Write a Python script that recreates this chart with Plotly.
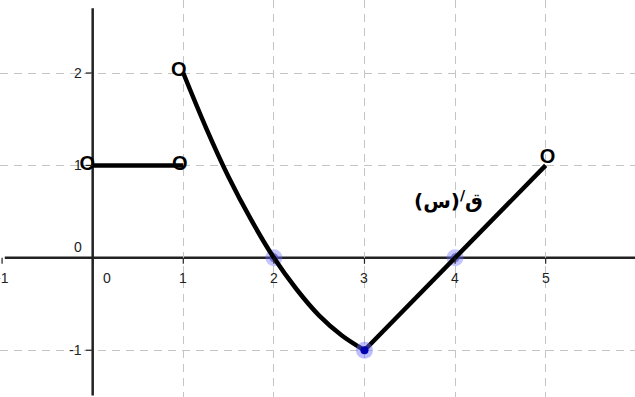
import plotly.graph_objects as go

# ---- data ----
seg_x = [0, 1]
seg_y = [1, 1]
curve_x = [1, 1.25, 1.5, 1.75, 2, 2.25, 2.5, 2.75, 3]
curve_y = [2, 1.41, 0.875, 0.41, 0, -0.34, -0.625, -0.84, -1]
line_x = [3, 5]
line_y = [-1, 1]
open_x = [-0.06, 0.96, 0.95, 5.02]
open_y = [1.0, 1.0, 2.02, 1.08]
zero_x = [2, 4]
zero_y = [0, 0]
min_x = [3]
min_y = [-1]
xtick_vals = [-1, 0, 1, 2, 3, 4, 5, 6]
xtick_text = ["-1", "0", "1", "2", "3", "4", "5", "6"]
ytick_vals = [-1, 0, 1, 2]
ytick_text = ["-1", "0", "1", "2"]
label_text = "ق<sup>/</sup>(س)"

fig = go.Figure()

black = dict(color="black", width=4.5)
# halos under line
fig.add_trace(go.Scatter(x=zero_x, y=zero_y, mode="markers",
                         marker=dict(size=17, color="rgba(110,110,255,0.4)"),
                         hoverinfo="skip"))
fig.add_trace(go.Scatter(x=zero_x, y=zero_y, mode="markers",
                         marker=dict(size=9, color="rgba(80,80,200,0.7)"),
                         hoverinfo="skip"))
fig.add_trace(go.Scatter(x=seg_x, y=seg_y, mode="lines", line=black))
fig.add_trace(go.Scatter(x=curve_x, y=curve_y, mode="lines", line=dict(black, shape="spline")))
fig.add_trace(go.Scatter(x=line_x, y=line_y, mode="lines", line=black))
fig.add_trace(go.Scatter(x=min_x, y=min_y, mode="markers",
                         marker=dict(size=17, color="rgba(110,110,255,0.45)"),
                         hoverinfo="skip"))
fig.add_trace(go.Scatter(x=min_x, y=min_y, mode="markers",
                         marker=dict(size=8, color="#0000b0"),
                         hoverinfo="skip"))
fig.add_trace(go.Scatter(x=open_x, y=open_y, mode="text", text=["O"] * len(open_x),
                         textposition="middle center",
                         textfont=dict(family="Liberation Sans", size=20, color="black",
                                       weight="bold")))

# axes
fig.add_shape(type="line", x0=-0.97, x1=5.99, y0=0, y1=0,
              line=dict(color="#222", width=2.5), layer="below")
fig.add_shape(type="line", x0=0, x1=0, y0=-1.49, y1=2.70,
              line=dict(color="#222", width=2.5), layer="below")

# ticks and tick labels
for v, t in zip(xtick_vals, xtick_text):
    fig.add_shape(type="line", xref="x", yref="y", ysizemode="pixel", yanchor=0,
                  x0=v, x1=v, y0=0, y1=-6, line=dict(color="#222", width=1.2))
    fig.add_annotation(x=v, y=0, text=t, showarrow=False,
                       xshift=14 if v == 0 else (-4 if v == 6 else 0), yshift=-20,
                       font=dict(family="Liberation Sans", size=14, color="#222"))
for v, t in zip(ytick_vals, ytick_text):
    fig.add_shape(type="line", xref="x", yref="y", xsizemode="pixel", xanchor=0,
                  x0=-7, x1=0, y0=v, y1=v, line=dict(color="#222", width=1.2))
    fig.add_annotation(x=0, y=v, text=t, showarrow=False, xanchor="right",
                       xshift=-9, yshift=11 if v == 0 else 0,
                       font=dict(family="Liberation Sans", size=14, color="#222"))

fig.add_annotation(x=3.93, y=0.625, text="<b>" + label_text + "</b>", showarrow=False,
                   font=dict(family="DejaVu Sans", size=20, color="black"))

fig.update_layout(
    width=635, height=397, margin=dict(l=0, r=0, t=0, b=0),
    plot_bgcolor="white", paper_bgcolor="white", showlegend=False,
    xaxis=dict(range=[-1.023, 5.986], tickvals=[1, 2, 3, 4, 5], showticklabels=False,
               showgrid=True, gridcolor="#c4c4c4", griddash="8px,6px", gridwidth=1,
               zeroline=False, showline=False, ticks=""),
    yaxis=dict(range=[-1.506, 2.79], tickvals=[-1, 1, 2], showticklabels=False,
               showgrid=True, gridcolor="#c4c4c4", griddash="8px,6px", gridwidth=1,
               zeroline=False, showline=False, ticks=""),
)

fig.write_html("out.html", config={"displayModeBar": False},
               post_script="document.body.style.margin='0';")
